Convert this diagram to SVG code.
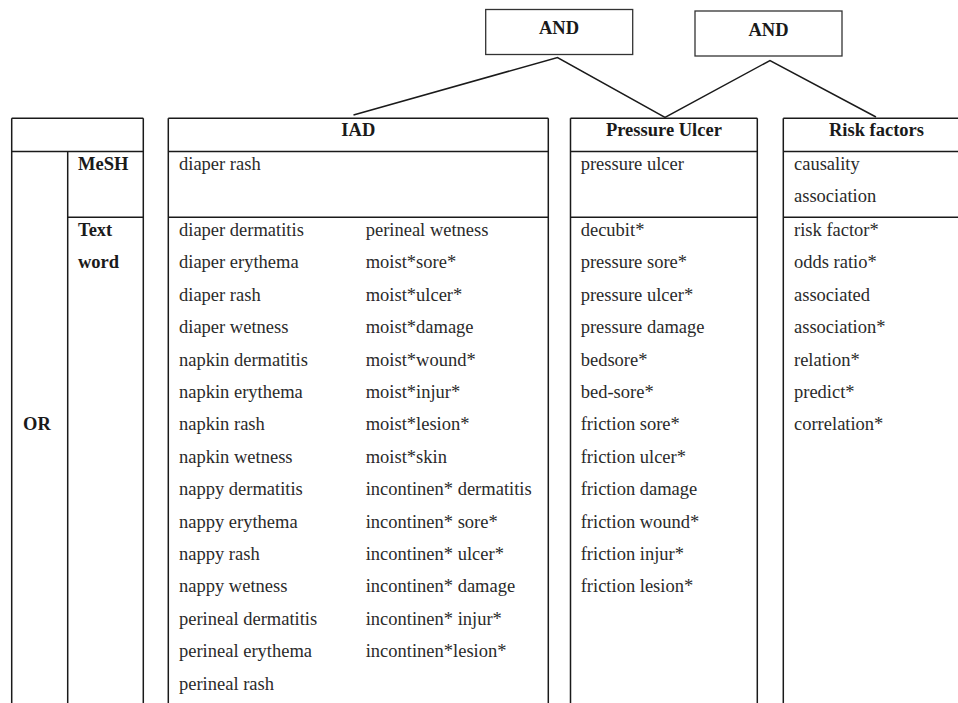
<svg xmlns="http://www.w3.org/2000/svg" width="958" height="703" viewBox="0 0 958 703" font-family="'Liberation Serif', 'Times New Roman', 'DejaVu Serif', serif">
<style>
.ln{stroke:#1a1a1a;stroke-width:1.5;fill:none}
.box{stroke:#333;stroke-width:1.3;fill:#fff}
text{font-family:'Liberation Serif','Times New Roman','DejaVu Serif',serif;font-size:18.5px}
.t{fill:#2a2a2a}
.b{font-weight:bold;fill:#1a1a1a}
.c{text-anchor:middle}
</style>
<rect width="958" height="703" fill="#fff"/>
<g id="connectors" class="ln">
<polyline points="353.5,115 557.5,57.5 665,117.5 770,60.5 876,117"/>
</g>
<g id="and1">
<rect class="box" x="485.7" y="9.5" width="147" height="45"/>
<text class="b c" x="559" y="34" font-family="Liberation Serif, serif">AND</text>
</g>
<g id="and2">
<rect class="box" x="695" y="11" width="147" height="45"/>
<text class="b c" x="768.5" y="35.5" font-family="Liberation Serif, serif">AND</text>
</g>
<g id="labels" font-family="Liberation Serif, serif">
<g class="ln">
<path d="M11.7,118.3H143.3M11.7,151.6H143.3M67.7,217.3H143.3M11.7,118.3V703M67.7,151.6V703M143.3,118.3V703"/>
</g>
<text class="b" x="78" y="170">MeSH</text>
<text class="b" x="78" y="236">Text</text>
<text class="b" x="78" y="268.4">word</text>
<text class="b" x="23" y="430.4">OR</text>
</g>
<g id="iad" font-family="Liberation Serif, serif">
<g class="ln">
<path d="M168.3,118.3H548.3M168.3,151.6H548.3M168.3,217.3H548.3M168.3,118.3V703M548.3,118.3V703"/>
</g>
<text class="b c" x="358.3" y="136">IAD</text>
<text class="t" x="179" y="170">diaper rash</text>
<text class="t" x="179" y="236">diaper dermatitis</text>
<text class="t" x="179" y="268.4">diaper erythema</text>
<text class="t" x="179" y="300.8">diaper rash</text>
<text class="t" x="179" y="333.2">diaper wetness</text>
<text class="t" x="179" y="365.6">napkin dermatitis</text>
<text class="t" x="179" y="398">napkin erythema</text>
<text class="t" x="179" y="430.4">napkin rash</text>
<text class="t" x="179" y="462.8">napkin wetness</text>
<text class="t" x="179" y="495.2">nappy dermatitis</text>
<text class="t" x="179" y="527.6">nappy erythema</text>
<text class="t" x="179" y="560">nappy rash</text>
<text class="t" x="179" y="592.4">nappy wetness</text>
<text class="t" x="179" y="624.8">perineal dermatitis</text>
<text class="t" x="179" y="657.2">perineal erythema</text>
<text class="t" x="179" y="689.6">perineal rash</text>
<text class="t" x="365.7" y="236">perineal wetness</text>
<text class="t" x="365.7" y="268.4">moist*sore*</text>
<text class="t" x="365.7" y="300.8">moist*ulcer*</text>
<text class="t" x="365.7" y="333.2">moist*damage</text>
<text class="t" x="365.7" y="365.6">moist*wound*</text>
<text class="t" x="365.7" y="398">moist*injur*</text>
<text class="t" x="365.7" y="430.4">moist*lesion*</text>
<text class="t" x="365.7" y="462.8">moist*skin</text>
<text class="t" x="365.7" y="495.2">incontinen* dermatitis</text>
<text class="t" x="365.7" y="527.6">incontinen* sore*</text>
<text class="t" x="365.7" y="560">incontinen* ulcer*</text>
<text class="t" x="365.7" y="592.4">incontinen* damage</text>
<text class="t" x="365.7" y="624.8">incontinen* injur*</text>
<text class="t" x="365.7" y="657.2">incontinen*lesion*</text>
</g>
<g id="pressure-ulcer" font-family="Liberation Serif, serif">
<g class="ln">
<path d="M570.5,118.3H757.3M570.5,151.6H757.3M570.5,217.3H757.3M570.5,118.3V703M757.3,118.3V703"/>
</g>
<text class="b c" x="663.9" y="136">Pressure Ulcer</text>
<text class="t" x="580.7" y="170">pressure ulcer</text>
<text class="t" x="580.7" y="236">decubit*</text>
<text class="t" x="580.7" y="268.4">pressure sore*</text>
<text class="t" x="580.7" y="300.8">pressure ulcer*</text>
<text class="t" x="580.7" y="333.2">pressure damage</text>
<text class="t" x="580.7" y="365.6">bedsore*</text>
<text class="t" x="580.7" y="398">bed-sore*</text>
<text class="t" x="580.7" y="430.4">friction sore*</text>
<text class="t" x="580.7" y="462.8">friction ulcer*</text>
<text class="t" x="580.7" y="495.2">friction damage</text>
<text class="t" x="580.7" y="527.6">friction wound*</text>
<text class="t" x="580.7" y="560">friction injur*</text>
<text class="t" x="580.7" y="592.4">friction lesion*</text>
</g>
<g id="risk-factors" font-family="Liberation Serif, serif">
<g class="ln">
<path d="M783.3,118.3H958M783.3,151.6H958M783.3,217.3H958M783.3,118.3V703"/>
</g>
<text class="b c" x="876.5" y="136">Risk factors</text>
<text class="t" x="794" y="170">causality</text>
<text class="t" x="794" y="202">association</text>
<text class="t" x="794" y="236">risk factor*</text>
<text class="t" x="794" y="268.4">odds ratio*</text>
<text class="t" x="794" y="300.8">associated</text>
<text class="t" x="794" y="333.2">association*</text>
<text class="t" x="794" y="365.6">relation*</text>
<text class="t" x="794" y="398">predict*</text>
<text class="t" x="794" y="430.4">correlation*</text>
</g>
</svg>
